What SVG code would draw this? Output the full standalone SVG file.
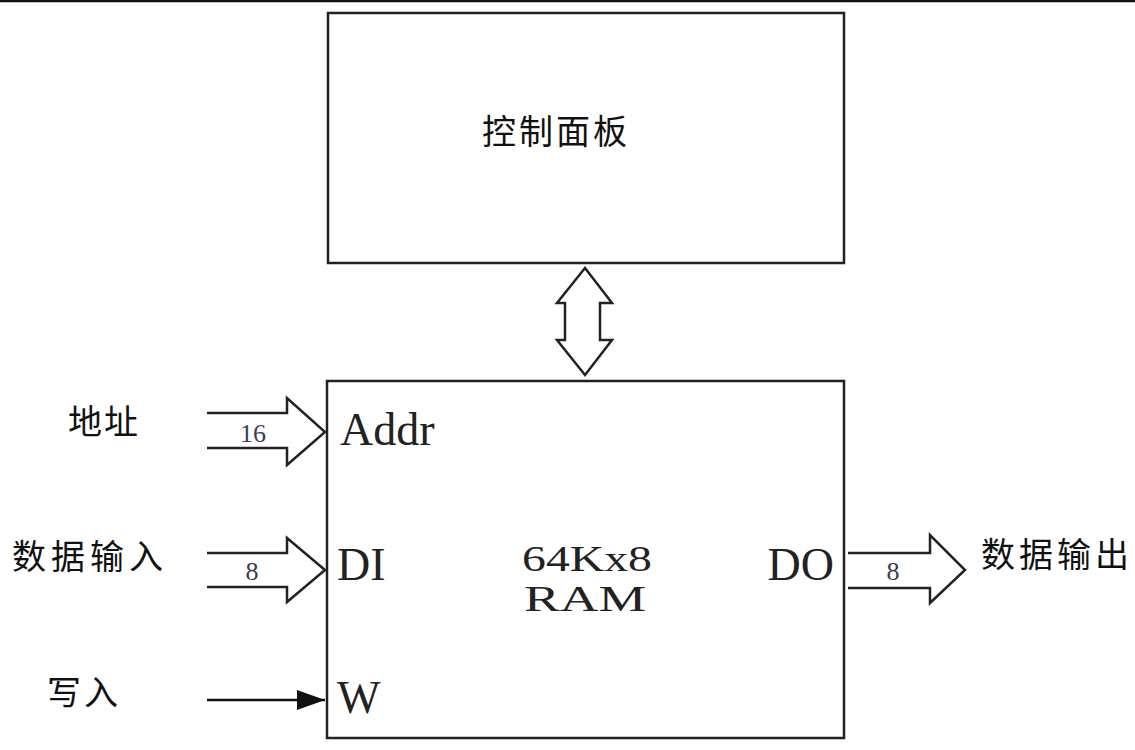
<svg xmlns="http://www.w3.org/2000/svg" width="1135" height="750" viewBox="0 0 1135 750">
<style>
.box{fill:#fff;stroke:#222;stroke-width:2.5}
.big{fill:#fff;stroke:#222;stroke-width:2.5;stroke-linejoin:miter}
.cjk{font-family:"Noto Sans CJK SC",sans-serif;font-size:34px;fill:#111}
.ser{font-family:"Liberation Serif",serif;fill:#222}
.num{font-family:"Liberation Serif",serif;font-size:26px;fill:#3c3c55;text-anchor:middle}
</style>
<defs>
<marker id="ah" viewBox="0 0 28 20" refX="28" refY="10" markerWidth="28" markerHeight="20" markerUnits="userSpaceOnUse" orient="auto">
<path d="M0,0 L28,10 L0,20 Z" fill="#111"/>
</marker>
</defs>
<rect x="0" y="0" width="1135" height="750" fill="#fff"/>
<line x1="0" y1="1" x2="1135" y2="1" stroke="#111" stroke-width="2.5"/>
<g id="panel">
<rect class="box" x="328" y="13" width="516" height="250"/>
<text class="cjk" x="482" y="144" font-size="36" letter-spacing="3">控制面板</text>
</g>
<g id="ram">
<rect class="box" x="327" y="381" width="517" height="357"/>
<text class="ser" x="340" y="445" font-size="46">Addr</text>
<text class="ser" x="337" y="580" font-size="46">DI</text>
<text class="ser" x="337" y="713" font-size="46">W</text>
<text class="ser" x="834" y="580" font-size="46" text-anchor="end">DO</text>
<text class="ser" x="587" y="571" font-size="36" text-anchor="middle" textLength="130" lengthAdjust="spacingAndGlyphs">64Kx8</text>
<text class="ser" x="585" y="611" font-size="36" text-anchor="middle" textLength="122" lengthAdjust="spacingAndGlyphs">RAM</text>
</g>
<g id="label-addr"><text class="cjk" x="68" y="434" letter-spacing="2">地址</text></g>
<g id="label-di"><text class="cjk" x="12" y="569" letter-spacing="5">数据输入</text></g>
<g id="label-w"><text class="cjk" x="47" y="705" letter-spacing="3">写入</text></g>
<g id="label-do"><text class="cjk" x="981" y="567" letter-spacing="4">数据输出</text></g>
<g id="connectors">
<path class="big" d="M207,413 H287 V398 L325,432 L287,465 V448 H207"/>
<text class="num" x="253" y="442">16</text>
<path class="big" d="M207,553 H287 V538 L325,570 L287,602 V587 H207"/>
<text class="num" x="252" y="580">8</text>
<path class="big" d="M848,553 H930 V535 L965,570 L930,603 V588 H848"/>
<text class="num" x="893" y="580">8</text>
<line x1="207" y1="700" x2="325" y2="700" stroke="#111" stroke-width="2.5" marker-end="url(#ah)"/>
<polygon class="big" points="585,268 612,303 600,303 600,340 612,340 585,375 557,340 565,340 565,303 557,303"/>
</g>
</svg>
